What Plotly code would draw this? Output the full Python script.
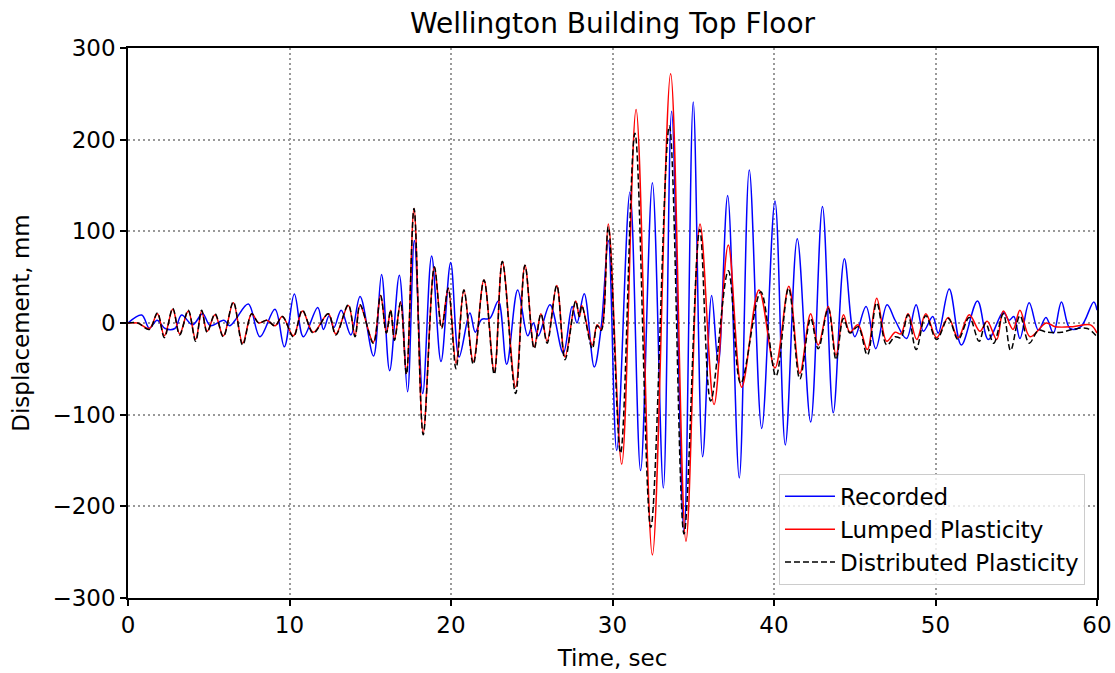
import plotly.graph_objects as go

# Recorded top-floor displacement (extrema of the response), time in s, displacement in mm
rec_t = [0, 0.85, 1.32, 1.8, 2.3, 2.9, 3.32, 4.0, 4.62, 5.1, 5.94, 6.3, 6.63, 7.45, 8.17,
         9.1, 9.68, 10.3, 10.86, 11.75, 12.1, 12.45, 12.75, 13.2, 13.8, 14.37, 15.2, 15.7,
         16.2, 16.8, 17.31, 17.73, 18.25, 18.8, 19.38, 19.98, 20.5, 21.17, 21.5, 21.9, 22.4,
         22.93, 23.45, 24.13, 24.75, 25.1, 25.4, 26.13, 26.95, 27.5, 27.8, 28.25, 28.87,
         29.3, 29.74, 30.26, 31.08, 31.74, 32.47, 33.15, 33.66, 34.43, 35.0, 35.58, 36.14,
         36.55, 37.13, 37.85, 38.47, 39.24, 40.06, 40.7, 41.44, 42.27, 43.0, 43.67, 44.36,
         45.0, 45.7, 46.3, 47.0, 47.5, 48.2, 48.8, 49.25, 49.83, 50.17, 50.85, 51.6, 52.6,
         53.27, 54.2, 54.55, 54.85, 55.23, 55.8, 56.37, 56.84, 57.3, 57.8, 58.33, 59.0,
         59.8, 60.0]
rec_v = [0, 8.7, -5.8, 3, -6, -6, 8.7, -2, 10, -3, 3, -3, 3, 20.7, -15,
         15, -26, 31.6, -15, 17, -7, 8, -5, 14, -13, 29, -36, 53,
         -52, 52, -75, 90, -77, 73, -42, 66, -37, 11, -10, 4, 5,
         24, -45, 36, -14, 0, -14, 20, -33, 18, 0, 32, -48,
         -4, 90, -139, 143, -161, 153, -180, 231, -230, 241, -146, 30,
         -45, 139, -169, 167, -115, 133, -133, 92, -108, 127, -98, 70,
         -15, 18, -28, 20, 3, -17, 20, -9, 7, -11, 37, -24, 24,
         -18, 12, 3, 7, -17, 22, -8, 6, -11, 23, -6, -4,
         23, 14]

# Lumped plasticity model
lum_t = [0, 0.6, 1.32, 1.82, 2.25, 2.77, 3.2, 3.73, 4.19, 4.56, 4.9, 5.39, 5.9, 6.52, 7.1,
         7.66, 8.1, 8.6, 9.1, 9.56, 10.24, 10.8, 11.47, 12.4, 12.87, 13.64, 14.06, 14.37,
         15.19, 15.64, 16.0, 16.26, 16.5, 16.88, 17.24, 17.71, 18.28, 18.97, 19.42, 19.83,
         20.31, 20.8, 21.38, 22.04, 22.68, 23.18, 24.0, 24.58, 25.15, 25.57, 25.95, 26.55,
         27.06, 27.72, 27.95, 28.1, 28.75, 29.05, 29.3, 29.74, 30.57, 31.46, 32.47, 33.6,
         34.55, 35.42, 36.29, 37.17, 38.0, 39.07, 40.06, 40.92, 41.6, 42.27, 42.74, 43.36,
         43.84, 44.3, 44.7, 45.2, 45.78, 46.36, 46.98, 47.5, 47.85, 48.3, 48.84, 49.4,
         50.07, 50.79, 51.4, 52.09, 52.75, 53.2, 53.79, 54.2, 54.8, 55.23, 55.85, 56.86,
         57.4, 58.5, 59.6, 60.0]
lum_v = [0, 0, -6, 10, -14, 15, -12, 13, -18, 13, -9, 9, -14, 22, -22,
         10, 0, 3, -3, 7, -14, 13, -10, 10, -12, 19, -14, 19,
         -21, 30, -11, 14, -18, 23, -55, 125, -120, 61, -4, 38,
         -44, 36, -42, 47, -53, 67, -70, 63, -26, 10, -20, 41,
         -37, 24, 7, 19, -24, -2, -7, 108, -154, 233, -253, 272,
         -238, 108, -89, 85, -70, 36, -49, 40, -55, 10, -24, 18,
         -35, 9, -10, -2, -29, 27, -20, -10, -12, 10, -18, 10,
         -16, 6, -16, 9, -9, 2, -18, 13, -7, 14, -15, 0,
         -4, -4, -2, -11]

# Distributed plasticity model
dis_t = [0, 0.6, 1.32, 1.82, 2.25, 2.77, 3.2, 3.73, 4.19, 4.56, 4.9, 5.39, 5.9, 6.52, 7.1,
         7.66, 8.1, 8.6, 9.1, 9.56, 10.24, 10.8, 11.47, 12.4, 12.87, 13.64, 14.06, 14.37,
         15.19, 15.64, 16.0, 16.26, 16.5, 16.88, 17.24, 17.71, 18.28, 18.97, 19.42, 19.83,
         20.31, 20.8, 21.38, 22.04, 22.68, 23.18, 24.0, 24.58, 25.15, 25.57, 25.95, 26.55,
         27.06, 27.72, 27.95, 28.1, 28.75, 29.05, 29.3, 29.74, 30.5, 31.39, 32.37, 33.52,
         34.43, 35.4, 36.08, 37.17, 37.94, 39.18, 40.12, 40.9, 41.6, 42.27, 42.74, 43.36,
         43.84, 44.3, 44.7, 45.2, 45.78, 46.36, 46.98, 47.5, 47.85, 48.3, 48.8, 49.4,
         50.07, 50.79, 51.4, 52.09, 52.7, 53.1, 53.6, 54.2, 54.65, 55.23, 55.8, 56.37,
         56.9, 57.8, 58.5, 59.4, 60.0]
dis_v = [0, 0, -7, 11, -16, 16, -13, 14, -20, 14, -10, 10, -15, 23, -24,
         10, 0, 3, -3, 7, -15, 14, -11, 10, -13, 20, -15, 20,
         -22, 30, -11, 14, -19, 23, -56, 125, -122, 61, -6, 38,
         -50, 36, -45, 47, -56, 67, -77, 63, -28, 10, -22, 41,
         -40, 24, 7, 19, -28, -3, -8, 105, -142, 207, -223, 215,
         -230, 102, -85, 57, -66, 34, -58, 38, -61, 5, -28, 16,
         -40, 5, -11, -4, -35, 22, -24, -15, -16, 9, -29, 8,
         -18, 5, -18, 6, -20, 0, -22, 10, -30, 8, -22, -8,
         -10, -10, -7, -6, -15]

x_ticks = [0, 10, 20, 30, 40, 50, 60]
y_ticks = [-300, -200, -100, 0, 100, 200, 300]

FONT = "DejaVu Sans"

fig = go.Figure()
fig.add_trace(go.Scatter(x=rec_t, y=rec_v, mode="lines", name="Recorded",
                         line=dict(color="#0000ff", width=1.5, shape="spline", smoothing=1.0)))
fig.add_trace(go.Scatter(x=lum_t, y=lum_v, mode="lines", name="Lumped Plasticity",
                         line=dict(color="#ff0000", width=1.5, shape="spline", smoothing=1.0)))
fig.add_trace(go.Scatter(x=dis_t, y=dis_v, mode="lines", name="Distributed Plasticity",
                         line=dict(color="#000000", width=1.5, dash="6px,3px",
                                   shape="spline", smoothing=1.0)))

axis_common = dict(
    showline=True, linecolor="black", linewidth=1.5, mirror=True,
    ticks="outside", ticklen=6, tickwidth=1.5, tickcolor="black",
    showgrid=True, gridcolor="#999999", gridwidth=1.5, griddash="1.5px,3.5px",
    zeroline=False, automargin=False,
    tickfont=dict(family=FONT, size=23, color="black"),
)

fig.update_layout(
    width=1115, height=673,
    margin=dict(l=128, r=18, t=48, b=75),
    paper_bgcolor="white", plot_bgcolor="white",
    font=dict(family=FONT, size=23, color="black"),
    title=dict(text="Wellington Building Top Floor", x=(128 + 1097) / 2 / 1115,
               xanchor="center", y=1 - 23 / 673, yanchor="middle", yref="container",
               font=dict(family=FONT, size=28, color="black")),
    xaxis=dict(range=[0, 60], tickvals=x_ticks,
               title=dict(text="Time, sec", standoff=13,
                          font=dict(family=FONT, size=23, color="black")),
               **axis_common),
    yaxis=dict(range=[-300, 300], tickvals=y_ticks,
               title=dict(text="Displacement, mm", standoff=16,
                          font=dict(family=FONT, size=23, color="black")),
               **axis_common),
    legend=dict(x=0.9876, xanchor="right", y=0.024, yanchor="bottom",
                bgcolor="rgba(255,255,255,0.8)", bordercolor="#cccccc", borderwidth=1,
                font=dict(family=FONT, size=23, color="black"),
                itemwidth=50),
    showlegend=True,
)

fig.write_html("out.html")
